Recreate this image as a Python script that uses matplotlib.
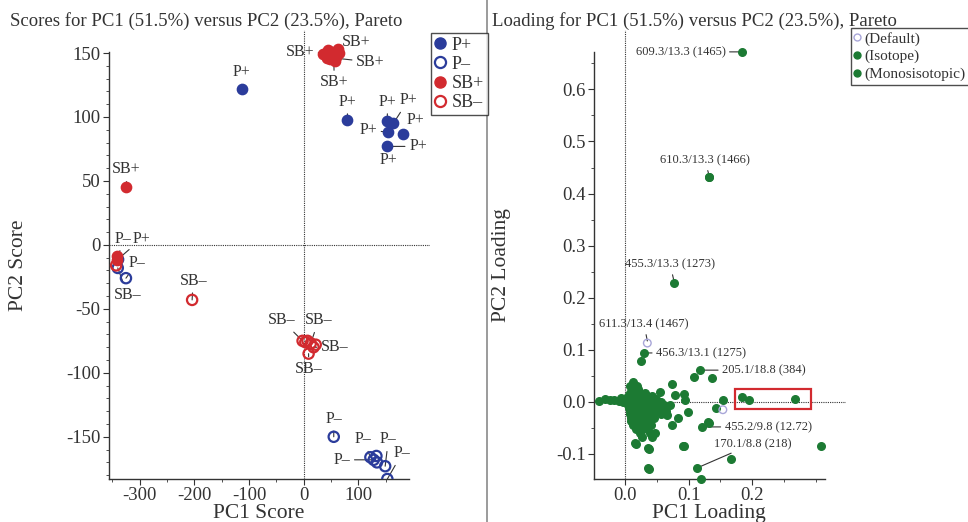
import matplotlib
matplotlib.use('Agg')
import matplotlib.pyplot as plt
from matplotlib.lines import Line2D
from matplotlib.patches import Rectangle
from matplotlib.ticker import FixedLocator, FormatStrFormatter

plt.rcParams['font.family'] = ['Liberation Serif', 'DejaVu Serif']
plt.rcParams['axes.unicode_minus'] = False

# ---- scores (left panel) ----
p_plus_x = [-113, 80, 153, 164, 155, 182, 153, -339]
p_plus_y = [122, 98, 97, 95, 88, 87, 77, -11]
p_minus_x = [-340, -325, 55, 122, 133, 134, 128, 149]
p_minus_y = [-18, -26, -150, -166, -165, -170, -168, -173]
p_minus_edge_x = [153]
p_minus_edge_y = [-183]
sb_plus_x = [40, 45, 50, 55, 60, 65, 48, 58, 62, 42, 52, 36, -324, -342, -341]
sb_plus_y = [150, 152, 148, 150, 147, 150, 145, 144, 153, 146, 151, 149, 45, -9, -12]
sb_minus_x = [-343, -204, -2, 7, 13, 18, 9, 22, 3]
sb_minus_y = [-16, -43, -75, -75, -77, -80, -85, -78, -76]

# label text, point, text centre
score_notes = [
    ('P+', (-113, 122), (-113, 135)),
    ('P+', (80, 98), (80, 112)),
    ('P+', (153, 97), (153, 112)),
    ('P+', (164, 95), (191, 113)),
    ('P+', (182, 87), (205, 98)),
    ('P+', (155, 88), (118, 90)),
    ('P+', (153, 77), (209, 77)),
    ('P+', (153, 77), (155, 66)),
    ('SB+', (40, 150), (-7, 151)),
    ('SB+', (60, 150), (96, 159)),
    ('SB+', (58, 146), (122, 143)),
    ('SB+', (55, 146), (56, 127)),
    ('SB+', (-324, 45), (-324, 59)),
    ('P\u2013', (-340, -12), (-331, 5)),
    ('P+', (-339, -11), (-296, 5)),
    ('P\u2013', (-325, -26), (-305, -14)),
    ('SB\u2013', (-340, -18), (-322, -39)),
    ('SB\u2013', (-204, -43), (-202, -28)),
    ('SB\u2013', (-2, -75), (-40, -59)),
    ('SB\u2013', (13, -77), (27, -59)),
    ('SB\u2013', (18, -80), (57, -80)),
    ('SB\u2013', (9, -85), (9, -97)),
    ('P\u2013', (55, -150), (55, -136)),
    ('P\u2013', (122, -166), (109, -152)),
    ('P\u2013', (149, -173), (155, -152)),
    ('P\u2013', (153, -183), (180, -163)),
    ('P\u2013', (128, -168), (70, -168)),
]

# ---- loadings (right panel) ----
mono_x = [0.184, 0.132, 0.077, 0.025, 0.118, 0.121, 0.132, 0.113,
          0.184, 0.195, 0.268, 0.309, 0.167, 0.120, 0.137, 0.109, 0.154,
          0.143, 0.093, 0.038, 0.038, 0.017, 0.074, 0.093, -0.041,
          -0.031, 0.013, 0.055, 0.079, 0.094, 0.099, 0.083, 0.074, 0.131,
          0.091, 0.036, 0.016, 0.036, 0.027, 0.043, 0.066, 0.071,
          0.012, 0.020, 0.008, 0.016, 0.024, 0.031,
          0.004, 0.011, 0.019, 0.027, 0.035, 0.042,
          0.002, 0.009, 0.017, 0.024, 0.032, 0.040, 0.048,
          0.003, 0.010, 0.018, 0.026, 0.034, 0.041, 0.050, 0.057,
          0.005, 0.012, 0.020, 0.028, 0.036, 0.044, 0.052, 0.061,
          0.006, 0.014, 0.022, 0.030, 0.038, 0.047, 0.056,
          0.007, 0.015, 0.023, 0.031, 0.040, 0.050, 0.064,
          0.008, 0.016, 0.024, 0.033, 0.043, 0.056,
          0.009, 0.017, 0.026, 0.035, 0.046,
          0.010, 0.019, 0.028, 0.038,
          0.013, 0.022, 0.031, 0.041,
          0.017, 0.027, 0.035, 0.024, 0.040, 0.047,
          -0.024, -0.017, -0.010, -0.004, -0.006, 0.018, 0.008]
mono_y = [0.672, 0.432, 0.228, 0.079, 0.061, -0.048, -0.040, -0.127,
          0.010, 0.004, 0.006, -0.084, -0.109, -0.148, 0.046, 0.048, 0.004,
          -0.012, -0.085, -0.129, -0.090, -0.081, 0.035, 0.015, 0.002,
          0.006, 0.038, 0.019, 0.013, 0.004, -0.019, -0.031, -0.044, -0.038,
          -0.084, -0.088, -0.079, -0.127, -0.067, -0.067, -0.025, -0.006,
          0.025, 0.025, 0.018, 0.018, 0.018, 0.018,
          0.012, 0.012, 0.012, 0.012, 0.012, 0.012,
          0.006, 0.006, 0.006, 0.006, 0.006, 0.006, 0.006,
          0.000, 0.000, 0.000, 0.000, 0.000, 0.000, 0.000, 0.000,
          -0.006, -0.006, -0.006, -0.006, -0.006, -0.006, -0.006, -0.006,
          -0.012, -0.012, -0.012, -0.012, -0.012, -0.012, -0.012,
          -0.018, -0.018, -0.018, -0.018, -0.018, -0.018, -0.018,
          -0.024, -0.024, -0.024, -0.024, -0.024, -0.024,
          -0.030, -0.030, -0.030, -0.030, -0.030,
          -0.037, -0.037, -0.037, -0.037,
          -0.044, -0.044, -0.044, -0.044,
          -0.052, -0.052, -0.052, -0.060, -0.060, -0.060,
          0.004, 0.003, 0.001, 0.000, 0.007, 0.031, 0.030]
iso_x = [0.030, 0.132]
iso_y = [0.094, 0.432]
default_x = [0.035, 0.154]
default_y = [0.113, -0.015]

loading_notes = [
    ('609.3/13.3 (1465)', (0.184, 0.672), (0.158, 0.672), 'right', 'center'),
    ('610.3/13.3 (1466)', (0.132, 0.436), (0.126, 0.452), 'center', 'bottom'),
    ('455.3/13.3 (1273)', (0.077, 0.232), (0.071, 0.252), 'center', 'bottom'),
    ('611.3/13.4 (1467)', (0.035, 0.117), (0.030, 0.137), 'center', 'bottom'),
    ('456.3/13.1 (1275)', (0.030, 0.094), (0.049, 0.094), 'left', 'center'),
    ('205.1/18.8 (384)', (0.118, 0.061), (0.153, 0.061), 'left', 'center'),
    ('455.2/9.8 (12.72)', (0.121, -0.048), (0.157, -0.048), 'left', 'center'),
    ('170.1/8.8 (218)', (0.113, -0.127), (0.201, -0.092), 'center', 'bottom'),
]

BLUE = '#2b3c9b'
RED = '#d22a2f'
GREEN = '#1c7a33'
LAV = '#a8a6d8'
TXT = '#333333'

fig = plt.figure(figsize=(9.68, 5.22), dpi=100)
W, H = 968.0, 522.0


def style_axes(ax, xb, yb):
    for s in ['top', 'right']:
        ax.spines[s].set_visible(False)
    for s in ['left', 'bottom']:
        ax.spines[s].set_color(TXT)
        ax.spines[s].set_linewidth(1.0)
    ax.spines['bottom'].set_bounds(*xb)
    ax.spines['left'].set_bounds(*yb)
    ax.tick_params(which='major', direction='out', length=4, colors=TXT,
                   labelsize=13.5, pad=2)
    ax.tick_params(which='minor', direction='out', length=2, colors=TXT)
    ax.patch.set_visible(False)


# Scores
ax1 = fig.add_axes([109 / W, 1 - 479 / H, 321 / W, 449 / H])
ax1.set_xlim(-356, 231)
ax1.set_ylim(-183, 168)
style_axes(ax1, (-356, 193), (-183, 151))
ax1.set_xticks([-300, -200, -100, 0, 100])
ax1.set_yticks([-150, -100, -50, 0, 50, 100, 150])
ax1.xaxis.set_minor_locator(FixedLocator(list(range(-350, 151, 50))))
ax1.yaxis.set_minor_locator(FixedLocator(list(range(-180, 151, 10))))
ax1.axhline(0, color=TXT, ls=(0, (1, 1)), lw=0.8)
ax1.axvline(0, color=TXT, ls=(0, (1, 1)), lw=0.8)

for txt, pt, tp in score_notes:
    ax1.annotate(txt, xy=pt, xytext=tp, ha='center', va='center',
                 fontsize=11.5, color=TXT,
                 arrowprops=dict(arrowstyle='-', color=TXT, lw=0.8,
                                 shrinkA=1, shrinkB=0))

ax1.scatter(p_minus_x, p_minus_y, s=55, facecolors='none', edgecolors=BLUE,
            linewidths=1.6, zorder=3)
ax1.scatter(p_minus_edge_x, p_minus_edge_y, s=55, facecolors='none',
            edgecolors=BLUE, linewidths=1.6, zorder=3)
ax1.scatter(sb_minus_x, sb_minus_y, s=55, facecolors='none', edgecolors=RED,
            linewidths=1.6, zorder=3)
ax1.scatter(p_plus_x, p_plus_y, s=55, color=BLUE, zorder=4)
ax1.scatter(sb_plus_x, sb_plus_y, s=55, color=RED, zorder=4)

ax1.set_xlabel('PC1 Score', fontsize=15.5, color=TXT, labelpad=0)
ax1.xaxis.set_label_coords((259 - 109) / 321, -0.055)
ax1.set_ylabel('PC2 Score', fontsize=15.5, color=TXT)
ax1.yaxis.set_label_coords(-(109 - 28) / 321, (479 - 265) / 449)

handles = [
    Line2D([], [], ls='', marker='o', ms=8, color=BLUE),
    Line2D([], [], ls='', marker='o', ms=8, mfc='none', mec=BLUE, mew=1.6),
    Line2D([], [], ls='', marker='o', ms=8, color=RED),
    Line2D([], [], ls='', marker='o', ms=8, mfc='none', mec=RED, mew=1.6),
]
leg1 = fig.legend(handles, ['P+', 'P\u2013', 'SB+', 'SB\u2013'],
                  loc='upper left', bbox_to_anchor=(431 / W, 1 - 33 / H),
                  fontsize=13, frameon=True, fancybox=False,
                  handlelength=0.6, handletextpad=0.35, labelspacing=0.12,
                  borderpad=0.2, borderaxespad=0)
leg1.get_frame().set_edgecolor('#222222')
for t in leg1.get_texts():
    t.set_color(TXT)

fig.text(10 / W, 1 - 26 / H, 'Scores for PC1 (51.5%) versus PC2 (23.5%), Pareto',
         fontsize=13.5, color=TXT, ha='left', va='baseline')

# Loadings
ax2 = fig.add_axes([594 / W, 1 - 479 / H, 252 / W, 449 / H])
ax2.set_xlim(-0.049, 0.348)
ax2.set_ylim(-0.148, 0.714)
style_axes(ax2, (-0.049, 0.315), (-0.148, 0.672))
ax2.set_xticks([0.0, 0.1, 0.2])
ax2.set_yticks([-0.1, 0.0, 0.1, 0.2, 0.3, 0.4, 0.5, 0.6])
ax2.xaxis.set_minor_locator(FixedLocator([-0.05, 0.05, 0.15, 0.25, 0.3]))
ax2.yaxis.set_minor_locator(FixedLocator([-0.05, 0.05, 0.15, 0.25, 0.35,
                                          0.45, 0.55, 0.65]))
ax2.xaxis.set_major_formatter(FormatStrFormatter('%.1f'))
ax2.yaxis.set_major_formatter(FormatStrFormatter('%.1f'))
ax2.axhline(0, color=TXT, ls=(0, (1, 1)), lw=0.8)
ax2.axvline(0, color=TXT, ls=(0, (1, 1)), lw=0.8)

for txt, pt, tp, ha, va in loading_notes:
    ax2.annotate(txt, xy=pt, xytext=tp, ha=ha, va=va, fontsize=9, color=TXT,
                 arrowprops=dict(arrowstyle='-', color=TXT, lw=0.8,
                                 shrinkA=1, shrinkB=0))

ax2.scatter(mono_x, mono_y, s=30, color=GREEN, zorder=3, clip_on=False)
ax2.scatter(iso_x, iso_y, s=30, color=GREEN, zorder=3)
ax2.scatter(default_x, default_y, s=30, facecolors='none', edgecolors=LAV,
            linewidths=1.0, zorder=3)
ax2.add_patch(Rectangle((0.173, -0.013), 0.120, 0.038, fill=False,
                        edgecolor=RED, lw=1.6, zorder=4))

ax2.set_xlabel('PC1 Loading', fontsize=15.5, color=TXT, labelpad=0)
ax2.xaxis.set_label_coords((709 - 594) / 252, -0.055)
ax2.set_ylabel('PC2 Loading', fontsize=15.5, color=TXT)
ax2.yaxis.set_label_coords(-(594 - 511) / 252, (479 - 265) / 449)

handles2 = [
    Line2D([], [], ls='', marker='o', ms=5, mfc='none', mec=LAV, mew=1.0),
    Line2D([], [], ls='', marker='o', ms=5, color=GREEN),
    Line2D([], [], ls='', marker='o', ms=5, color=GREEN),
]
leg2 = fig.legend(handles2, ['(Default)', '(Isotope)', '(Monosisotopic)'],
                  loc='upper left', bbox_to_anchor=(851 / W, 1 - 28 / H),
                  fontsize=11, frameon=True, fancybox=False,
                  handlelength=0.35, handletextpad=0.3, labelspacing=0.25,
                  borderpad=0.25, borderaxespad=0)
leg2.get_frame().set_edgecolor('#222222')
for t in leg2.get_texts():
    t.set_color(TXT)

fig.text(492 / W, 1 - 26 / H, 'Loading for PC1 (51.5%) versus PC2 (23.5%), Pareto',
         fontsize=13.5, color=TXT, ha='left', va='baseline')

# panel separator
fig.add_artist(Line2D([487 / W, 487 / W], [0, 1], transform=fig.transFigure,
                      color='#8a8a8a', lw=1.2))

fig.savefig('out.png', dpi=100)
